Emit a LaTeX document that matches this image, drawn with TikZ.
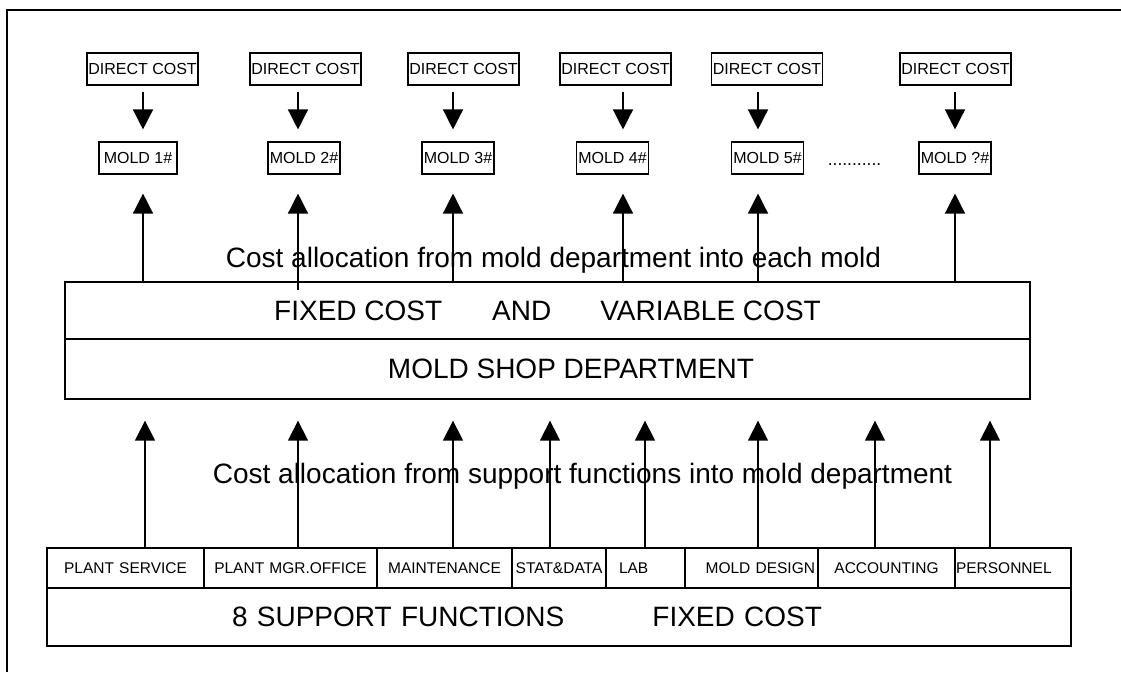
\documentclass[tikz,border=0pt]{standalone}
\usepackage{fontspec}
\setmainfont{Liberation Sans}
\usetikzlibrary{arrows.meta}

\begin{document}
\begin{tikzpicture}[x=1pt,y=-1pt,
        smallbox/.style={draw,line width=1.1pt,inner sep=0pt,minimum height=32pt,font=\fontsize{16}{18}\selectfont},
        cellbox/.style={draw,line width=1.1pt,inner ysep=0pt,inner xsep=1pt,minimum height=40pt,font=\fontsize{15.5}{18}\selectfont},
        deptbox/.style={draw,line width=1.3pt,inner sep=0pt,minimum width=965pt,font=\fontsize{28}{32}\selectfont},
        bigtext/.style={anchor=base,inner sep=0pt,font=\fontsize{28}{32}\selectfont},
        flow/.style={line width=1.4pt,-{Triangle[width=20pt,length=20pt]}}]
        \useasboundingbox (0,0) rectangle (1121,672);
        %% Frame
        \draw[line width=1.6pt] (7,672) -- (7,10) -- (1121,10);
        %% Direct costs
        \node[smallbox,minimum width=111pt] (dc1) at (142.5,69) {DIRECT COST};
        \node[smallbox,minimum width=111pt] (dc2) at (305.5,69) {DIRECT COST};
        \node[smallbox,minimum width=111pt] (dc3) at (463.5,69) {DIRECT COST};
        \node[smallbox,minimum width=111pt] (dc4) at (615.5,69) {DIRECT COST};
        \node[smallbox,minimum width=111pt] (dc5) at (767,69) {DIRECT COST};
        \node[smallbox,minimum width=111pt] (dc6) at (955.5,69) {DIRECT COST};
        %% Molds
        \node[smallbox,minimum width=78pt] (m1) at (138,158) {MOLD 1\#};
        \node[smallbox,minimum width=72pt] (m2) at (304,158) {MOLD 2\#};
        \node[smallbox,minimum width=72pt] (m3) at (458,158) {MOLD 3\#};
        \node[smallbox,minimum width=72pt] (m4) at (612.5,158) {MOLD 4\#};
        \node[smallbox,minimum width=72pt] (m5) at (767.5,158) {MOLD 5\#};
        \node[smallbox,minimum width=72pt] (m6) at (955,158) {MOLD ?\#};
        \node[anchor=base,inner sep=0pt,font=\fontsize{17.5}{20}\selectfont] (dots) at (854.5,165) {...........};
        %% Mold shop department
        \node[deptbox,minimum height=57pt] (fv) at (547.5,310.5) {FIXED COST\hspace{50pt}AND\hspace{49pt}VARIABLE COST};
        \node[deptbox,minimum height=60pt] (md) at (547.5,369) {\hspace*{47pt}MOLD SHOP DEPARTMENT};
        \node[bigtext] (ta) at (553.5,267) {Cost allocation from mold department into each mold};
        \node[bigtext] (tb) at (582.5,483) {Cost allocation from support functions into mold department};
        %% Support functions
        \node[cellbox,text width=155pt,align=center] (ps) at (125.5,568) {PLANT SERVICE};
        \node[cellbox,text width=171pt,align=center] (pm) at (290.5,568) {PLANT MGR.OFFICE};
        \node[cellbox,text width=133pt,align=center] (mt) at (444.5,568) {MAINTENANCE};
        \node[cellbox,text width=92pt,align=center] (sd) at (559,568) {STAT\&DATA};
        \node[cellbox,text width=53pt,inner xsep=13pt,align=left] (lb) at (645.5,568) {LAB};
        \node[cellbox,text width=127pt,inner xsep=3pt,align=right] (mdg) at (751.5,568) {MOLD DESIGN};
        \node[cellbox,text width=135pt,align=center] (ac) at (886.5,568) {ACCOUNTING};
        \node[cellbox,text width=114pt,align=left] (pe) at (1013,568) {PERSONNEL};
        \node[draw,line width=1.3pt,inner sep=0pt,minimum height=58pt,text width=1024pt,align=left,font=\fontsize{28}{32}\selectfont] (sf) at (559,617) {\hspace*{185pt}8 SUPPORT FUNCTIONS\hspace{88pt}FIXED COST};
        %% Columns
        \coordinate (c1) at (143,282);
        \coordinate (c2) at (298,290);
        \coordinate (c3) at (453,282);
        \coordinate (c4) at (623,282);
        \coordinate (c5) at (758,282);
        \coordinate (c6) at (955,282);
        \coordinate (s1) at (145,0);
        \coordinate (s2) at (298,0);
        \coordinate (s3) at (453,0);
        \coordinate (s4) at (550,0);
        \coordinate (s5) at (645,0);
        \coordinate (s6) at (758,0);
        \coordinate (s7) at (875,0);
        \coordinate (s8) at (990,0);
        %% Arrows
        \draw[flow,shorten <=6pt,shorten >=12pt] (dc1.south -| c1) -- (m1.north -| c1);
        \draw[flow,shorten <=6pt,shorten >=12pt] (dc2.south -| c2) -- (m2.north -| c2);
        \draw[flow,shorten <=6pt,shorten >=12pt] (dc3.south -| c3) -- (m3.north -| c3);
        \draw[flow,shorten <=6pt,shorten >=12pt] (dc4.south -| c4) -- (m4.north -| c4);
        \draw[flow,shorten <=6pt,shorten >=12pt] (dc5.south -| c5) -- (m5.north -| c5);
        \draw[flow,shorten <=6pt,shorten >=12pt] (dc6.south -| c6) -- (m6.north -| c6);
        \draw[flow,shorten >=19pt] (c1) -- (m1.south -| c1);
        \draw[flow,shorten >=19pt] (c2) -- (m2.south -| c2);
        \draw[flow,shorten >=19pt] (c3) -- (m3.south -| c3);
        \draw[flow,shorten >=19pt] (c4) -- (m4.south -| c4);
        \draw[flow,shorten >=19pt] (c5) -- (m5.south -| c5);
        \draw[flow,shorten >=19pt] (c6) -- (m6.south -| c6);
        \draw[flow,shorten >=21pt] (ps.north -| s1) -- (md.south -| s1);
        \draw[flow,shorten >=21pt] (pm.north -| s2) -- (md.south -| s2);
        \draw[flow,shorten >=21pt] (mt.north -| s3) -- (md.south -| s3);
        \draw[flow,shorten >=21pt] (sd.north -| s4) -- (md.south -| s4);
        \draw[flow,shorten >=21pt] (lb.north -| s5) -- (md.south -| s5);
        \draw[flow,shorten >=21pt] (mdg.north -| s6) -- (md.south -| s6);
        \draw[flow,shorten >=21pt] (ac.north -| s7) -- (md.south -| s7);
        \draw[flow,shorten >=21pt] (pe.north -| s8) -- (md.south -| s8);
\end{tikzpicture}
\end{document}
